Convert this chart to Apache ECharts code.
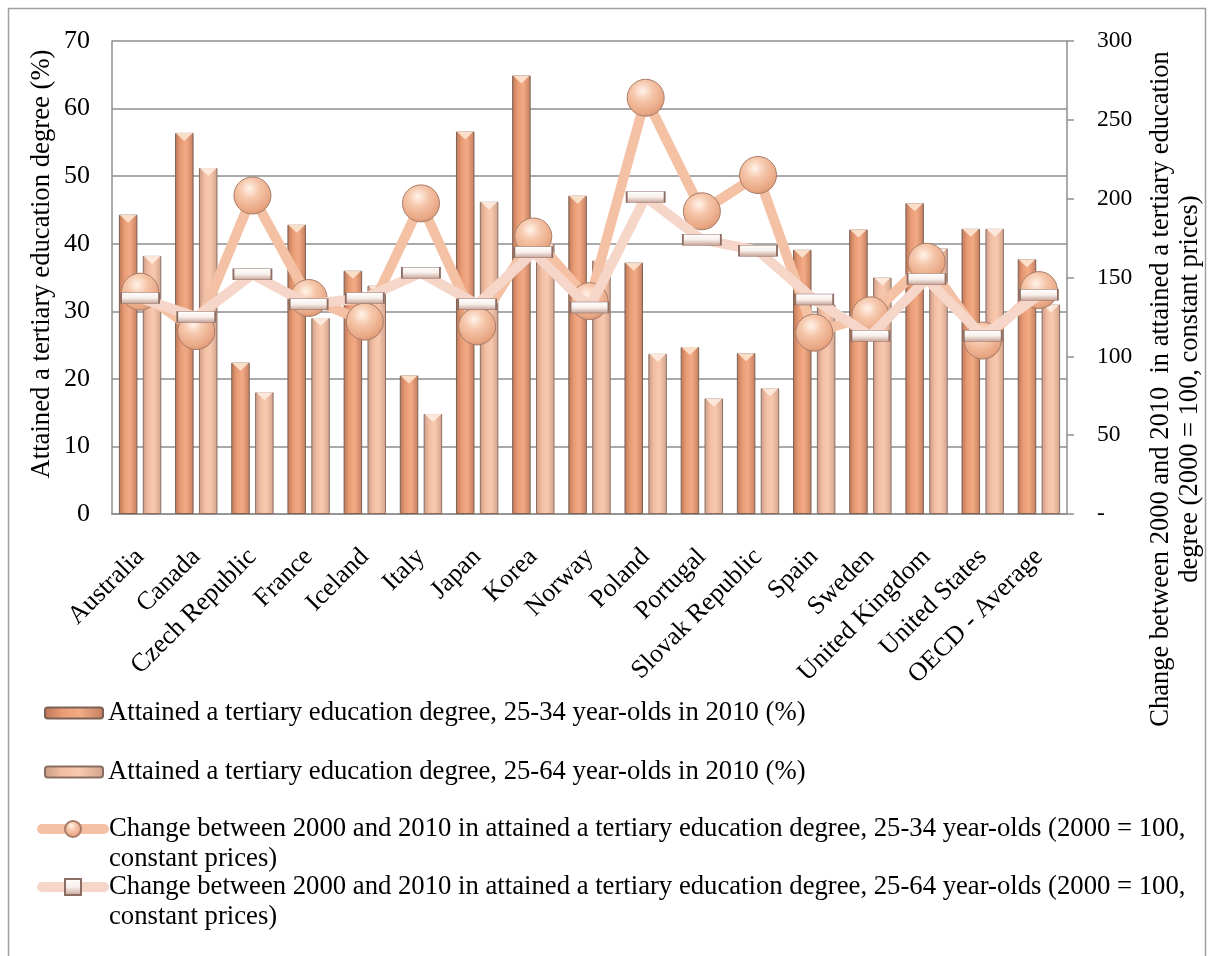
<!DOCTYPE html>
<html>
<head>
<meta charset="utf-8">
<title>Tertiary education attainment</title>
<script src="https://cdn.jsdelivr.net/npm/echarts@6/dist/echarts.min.js"></script>
<style>
  html, body { margin: 0; padding: 0; background: #ffffff; }
  #chart { width: 1208px; height: 956px; }
</style>
</head>
<body>
<div id="chart"></div>
<script>
// Countries on the category axis
const countries = ['Australia', 'Canada', 'Czech Republic', 'France', 'Iceland', 'Italy', 'Japan', 'Korea',
  'Norway', 'Poland', 'Portugal', 'Slovak Republic', 'Spain', 'Sweden', 'United Kingdom', 'United States',
  'OECD - Average'];

// Share with a tertiary degree in 2010 (%)
const attained2534 = [44.3, 56.4, 22.4, 42.8, 36.0, 20.5, 56.6, 64.9, 47.1, 37.2, 24.7, 23.8, 39.1, 42.1, 46.0, 42.2, 37.7];
const attained2564 = [38.2, 51.2, 18.0, 29.0, 33.8, 14.8, 46.2, 40.0, 37.5, 23.7, 17.1, 18.6, 31.0, 35.0, 39.3, 42.2, 31.0];

// Index of change 2000 -> 2010 (2000 = 100)
const change2534 = [141, 116, 202, 137, 122, 197, 119, 176, 135, 264, 192, 215, 115, 126, 160, 110, 142];
const change2564 = [137, 125, 152, 133, 137, 153, 133, 166, 131, 201, 174, 167, 136, 113, 149, 113, 139];

// Axis ticks
const leftTicks = { min: 0, max: 70, step: 10 };
const rightTicks = { min: 0, max: 300, step: 50 };

const names = [
  'Attained a tertiary education degree, 25-34 year-olds in 2010 (%)',
  'Attained a tertiary education degree, 25-64 year-olds in 2010 (%)',
  'Change between 2000 and 2010 in attained a tertiary education degree, 25-34 year-olds (2000 = 100, constant prices)',
  'Change between 2000 and 2010 in attained a tertiary education degree, 25-64 year-olds (2000 = 100, constant prices)'
];

const serif = "'Liberation Serif', 'Times New Roman', serif";
const gridCol = '#8e8e8e';

const barFill1 = {
  type: 'linear', x: 0, y: 0, x2: 1, y2: 0,
  colorStops: [
    { offset: 0, color: '#bb7656' },
    { offset: 0.3, color: '#e99c75' },
    { offset: 0.6, color: '#f2ab85' },
    { offset: 1, color: '#c47e5e' }
  ]
};
const barFill2 = {
  type: 'linear', x: 0, y: 0, x2: 1, y2: 0,
  colorStops: [
    { offset: 0, color: '#c99a86' },
    { offset: 0.3, color: '#f2bea3' },
    { offset: 0.6, color: '#f8c9af' },
    { offset: 1, color: '#d2a28c' }
  ]
};
const sphere = {
  type: 'radial', x: 0.42, y: 0.32, r: 0.75,
  colorStops: [
    { offset: 0, color: '#fff3ea' },
    { offset: 0.35, color: '#f6c7ab' },
    { offset: 0.8, color: '#e8a582' },
    { offset: 1, color: '#c98a6c' }
  ]
};
const plate = {
  type: 'linear', x: 0, y: 0, x2: 0, y2: 1,
  colorStops: [
    { offset: 0, color: '#ffffff' },
    { offset: 0.5, color: '#f7efeb' },
    { offset: 1, color: '#c4a094' }
  ]
};

const legendText = { fontFamily: serif, fontSize: 26.7, color: '#000', lineHeight: 30 };

// one legend block per series so each row sits at its own height
function legendItem(name, top, extra) {
  return Object.assign({
    data: [name],
    orient: 'vertical',
    left: 44,
    top: top,
    padding: 0,
    itemGap: 0,
    itemWidth: 58,
    itemHeight: 11,
    selectedMode: false,
    textStyle: legendText
  }, extra || {});
}

// two-line entries: a leading blank line keeps the symbol level with the first line
const wrapTwoLines = n => '\n' + n.replace(' constant prices)', '\nconstant prices)');
const lineLegend = { left: 37, itemWidth: 62, itemHeight: 20, formatter: wrapTwoLines, lineStyle: { width: 10, cap: 'round' } };

const chart = echarts.init(document.getElementById('chart'), null, { renderer: 'canvas' });

chart.setOption({
  backgroundColor: '#ffffff',
  animation: false,
  grid: { left: 112, right: 141, top: 41, bottom: 442, containLabel: false },
  legend: [
    legendItem(names[0], 698),
    legendItem(names[1], 757),
    legendItem(names[2], 784, lineLegend),
    legendItem(names[3], 842, lineLegend)
  ],
  xAxis: {
    type: 'category',
    data: countries,
    boundaryGap: true,
    axisLine: { lineStyle: { color: gridCol, width: 1.5 } },
    axisTick: { show: false },
    axisLabel: { rotate: 45, margin: 39, interval: 0, fontFamily: serif, fontSize: 26, color: '#000' }
  },
  yAxis: [
    {
      type: 'value', min: leftTicks.min, max: leftTicks.max, interval: leftTicks.step,
      position: 'left',
      axisLine: { show: true, lineStyle: { color: gridCol, width: 1.5 } },
      axisTick: { show: false },
      splitLine: { lineStyle: { color: gridCol, width: 1.5 } },
      axisLabel: { margin: 22, fontFamily: serif, fontSize: 26, color: '#000' }
    },
    {
      type: 'value', min: rightTicks.min, max: rightTicks.max, interval: rightTicks.step,
      position: 'right',
      axisLine: { show: true, lineStyle: { color: gridCol, width: 1.5 } },
      axisTick: { show: true, inside: false, length: 7, lineStyle: { color: gridCol, width: 1.5 } },
      splitLine: { show: false },
      axisLabel: {
        margin: 30, fontFamily: serif, fontSize: 23.5, color: '#000', align: 'left',
        formatter: v => (v === 0 ? '-' : String(v))
      }
    }
  ],
  series: [
    {
      name: names[0], type: 'bar', data: attained2534, barWidth: 18.5, barGap: '29%',
      itemStyle: { color: barFill1, borderColor: '#7c6054', borderWidth: 1 }
    },
    {
      name: names[1], type: 'bar', data: attained2564, barWidth: 18.5, barGap: '29%',
      itemStyle: { color: barFill2, borderColor: '#8a6e62', borderWidth: 1 }
    },
    {
      // bevel highlight on the top of each bar
      type: 'scatter', data: attained2534, symbol: 'triangle', symbolRotate: 180,
      symbolSize: [17, 8], symbolOffset: [-12, 4], silent: true, z: 3,
      itemStyle: { color: '#fbe2cc', opacity: 0.95 }
    },
    {
      type: 'scatter', data: attained2564, symbol: 'triangle', symbolRotate: 180,
      symbolSize: [17, 8], symbolOffset: [12, 4], silent: true, z: 3,
      itemStyle: { color: '#fdeadd', opacity: 0.95 }
    },
    {
      name: names[2], type: 'line', yAxisIndex: 1, data: change2534, z: 4,
      symbol: 'circle', symbolSize: 37, showAllSymbol: true,
      lineStyle: { color: '#f4c1a5', width: 10 },
      itemStyle: { color: sphere, borderColor: '#a97c68', borderWidth: 1 }
    },
    {
      name: names[3], type: 'line', yAxisIndex: 1, data: change2564, z: 5,
      symbol: 'rect', symbolSize: [38, 11], showAllSymbol: true,
      lineStyle: { color: '#f6d6c8', width: 10 },
      itemStyle: { color: plate, borderColor: '#8d6c62', borderWidth: 1 }
    }
  ],
  graphic: [
    {
      type: 'rect', silent: true, z: -1,
      shape: { x: 8.5, y: 8.5, width: 1197, height: 980 },
      style: { fill: null, stroke: '#a0a0a0', lineWidth: 1.5 }
    },
    {
      type: 'text', silent: true, x: 42, y: 264, rotation: Math.PI / 2,
      style: {
        text: 'Attained a tertiary education degree (%)',
        font: '26.7px ' + serif, fill: '#000', align: 'center', verticalAlign: 'middle'
      }
    },
    {
      type: 'text', silent: true, x: 1176, y: 389, rotation: Math.PI / 2,
      style: {
        text: 'Change between 2000 and 2010  in attained a tertiary education\ndegree (2000 = 100, constant prices)',
        font: '26.5px ' + serif, fill: '#000', align: 'center', verticalAlign: 'middle', lineHeight: 29
      }
    }
  ]
});
</script>
</body>
</html>
